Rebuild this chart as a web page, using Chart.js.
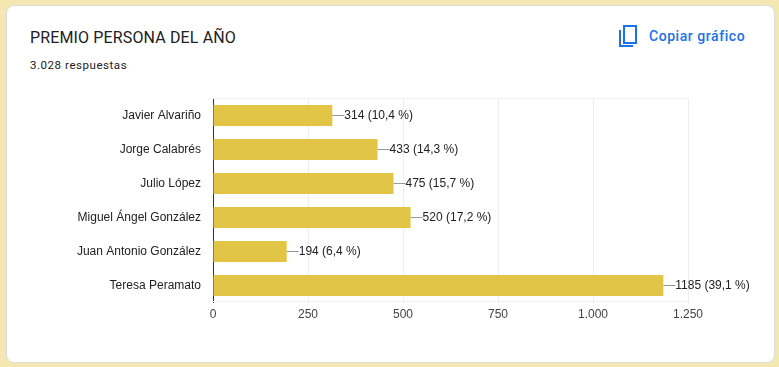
<!DOCTYPE html>
<html>
<head>
<meta charset="utf-8">
<script src="https://cdn.jsdelivr.net/npm/chart.js@4"></script>
<style>
html,body{margin:0;padding:0;width:779px;height:367px;overflow:hidden;background:#f4e7b1;}
#card{position:absolute;left:6px;top:5px;width:767px;height:356px;background:#fff;border:1px solid #dadce0;border-radius:8px;}
#titulo{position:absolute;left:30px;top:28px;font:400 16px Roboto,sans-serif;letter-spacing:.14px;color:#202124;line-height:20px;white-space:nowrap;}
#resp{position:absolute;left:30px;top:58px;font:400 11.5px Roboto,sans-serif;letter-spacing:.55px;color:#202124;line-height:15px;white-space:nowrap;}
#copiar{position:absolute;left:649px;top:27px;font:500 14px Roboto,sans-serif;letter-spacing:.55px;color:#1a73e8;line-height:18px;white-space:nowrap;}
#icono{position:absolute;left:615px;top:23px;}
#grafico{position:absolute;left:0;top:0;}
</style>
</head>
<body>
<div id="card"></div>
<div id="titulo">PREMIO PERSONA DEL AÑO</div>
<div id="resp">3.028 respuestas</div>
<svg id="icono" width="24" height="26" viewBox="0 0 24 26">
  <path fill="none" stroke="#1a73e8" stroke-width="2" d="M9 3h12v17H9z"/>
  <path fill="none" stroke="#1a73e8" stroke-width="2" d="M5 7v16h13"/>
</svg>
<div id="copiar">Copiar gráfico</div>
<canvas id="grafico" width="779" height="367"></canvas>
<script>
const nombres=["Javier Alvariño","Jorge Calabrés","Julio López","Miguel Ángel González","Juan Antonio González","Teresa Peramato"];
const votos=[314,433,475,520,194,1185];
const porcentajes=["10,4","14,3","15,7","17,2","6,4","39,1"];
const xTicks=["0","250","500","750","1.000","1.250"];

const amarillo="#e2c546";
const fuente={family:"'Liberation Sans',Arial,sans-serif",size:12};

// marco claro del area y etiquetas con su linea guia
const etiquetas={
  id:"etiquetas",
  beforeDatasetsDraw(chart){
    const c=chart.ctx,a=chart.chartArea;
    c.save();
    c.strokeStyle="#f0f0f0";
    c.lineWidth=1;
    c.beginPath();
    c.moveTo(a.left,98.5);c.lineTo(a.right,98.5);
    c.moveTo(a.left,301.5);c.lineTo(a.right,301.5);
    c.stroke();
    c.restore();
  },
  afterDatasetsDraw(chart){
    const c=chart.ctx;
    const meta=chart.getDatasetMeta(0);
    c.save();
    c.font="12px "+fuente.family;
    c.textBaseline="middle";
    meta.data.forEach((bar,i)=>{
      c.strokeStyle="#999999";
      c.lineWidth=1;
      c.beginPath();
      c.moveTo(bar.x,Math.floor(bar.y)+0.5);
      c.lineTo(bar.x+12,Math.floor(bar.y)+0.5);
      c.stroke();
      c.fillStyle="#222222";
      c.fillText(votos[i]+" ("+porcentajes[i]+" %)",bar.x+12,bar.y);
    });
    c.restore();
  }
};

new Chart(document.getElementById("grafico"),{
  type:"bar",
  data:{
    labels:nombres,
    datasets:[{data:votos,backgroundColor:amarillo,categoryPercentage:0.6176,barPercentage:1}]
  },
  options:{
    indexAxis:"y",
    responsive:false,
    animation:false,
    layout:{padding:{top:98.5,right:91,bottom:0,left:0}},
    plugins:{legend:{display:false},tooltip:{enabled:false}},
    scales:{
      x:{
        min:0,max:1250,
        afterBuildTicks(a){a.ticks=xTicks.map((t,i)=>({value:i*250}));},
        afterFit(a){a.height=64.5;},
        grid:{color:"#eeeeee",drawTicks:false},
        border:{display:false},
        ticks:{padding:4.5,color:"#444444",font:fuente,maxRotation:0,autoSkip:false,callback:(v,i)=>xTicks[i]}
      },
      y:{
        afterFit(a){a.width=213;},
        grid:{display:false},
        border:{color:"#333333",width:1},
        ticks:{padding:4,color:"#222222",font:fuente,autoSkip:false}
      }
    }
  },
  plugins:[etiquetas]
});
</script>
</body>
</html>
